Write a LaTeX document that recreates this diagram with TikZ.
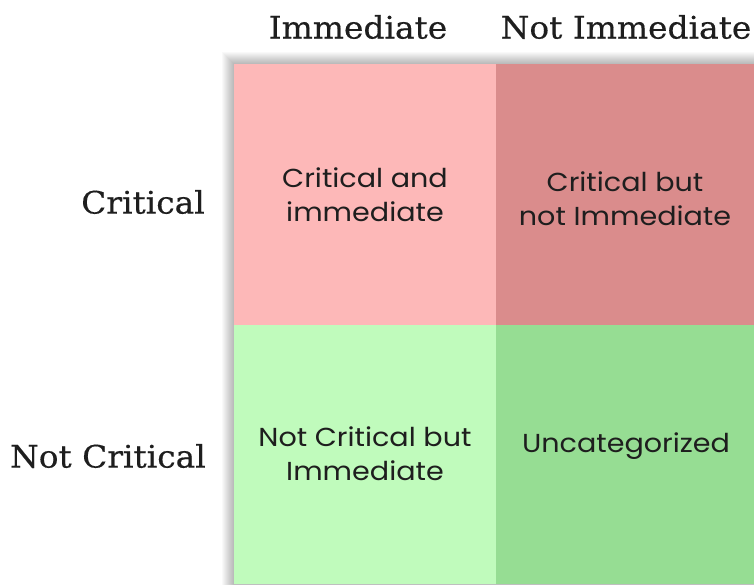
\documentclass[tikz,border=0pt]{standalone}
\usepackage{fontspec}
\newfontfamily\hdrfont[FakeStretch=1.06,FakeBold=0.4]{DejaVu Serif}
\newfontfamily\celfont[FakeStretch=1.1]{Poppins}
\definecolor{cpink}{HTML}{FDB8B8}
\definecolor{cdpink}{HTML}{DA8C8C}
\definecolor{clgreen}{HTML}{C0FBBC}
\definecolor{cgreen}{HTML}{96DD93}
\definecolor{ctext}{HTML}{1E1E1E}
\begin{document}
\begin{tikzpicture}[x=1pt,y=-1pt,
  cell/.style={draw=none, inner sep=0pt, anchor=north west},
  hdr/.style={font=\hdrfont\fontsize{31}{34}\selectfont, text=ctext, inner sep=0pt},
  lbl/.style={font=\celfont\fontsize{26}{34}\selectfont, text=ctext, align=center, inner sep=0pt}]
\useasboundingbox (0,0) rectangle (754,584);
\fill[white] (0,0) rectangle (754,584);
% soft shadow
\foreach \d in {1,...,12}{
  \fill[black, opacity=0.022] (234-\d,64-\d) rectangle (760,590);
}
\node[cell, fill=cpink, minimum width=262pt, minimum height=261pt] (c11) at (234,64) {};
\node[cell, fill=cdpink, minimum width=258pt, minimum height=261pt] (c12) at (496,64) {};
\node[cell, fill=clgreen, minimum width=262pt, minimum height=259pt] (c21) at (234,325) {};
\node[cell, fill=cgreen, minimum width=258pt, minimum height=259pt] (c22) at (496,325) {};
\node[hdr] (h1) at (358,27) {Immediate};
\node[hdr] (h2) at (626,27) {Not Immediate};
\node[hdr, anchor=east] (r1) at (205,202) {Critical};
\node[hdr, anchor=east] (r2) at (206,456) {Not Critical};
\node[lbl] (t11) at (365,195) {Critical and\\immediate};
\node[lbl] (t12) at (625,199) {Critical but\\not Immediate};
\node[lbl] (t21) at (365,454) {Not Critical but\\Immediate};
\node[lbl] (t22) at (626,446) {Uncategorized};
\end{tikzpicture}
\end{document}
